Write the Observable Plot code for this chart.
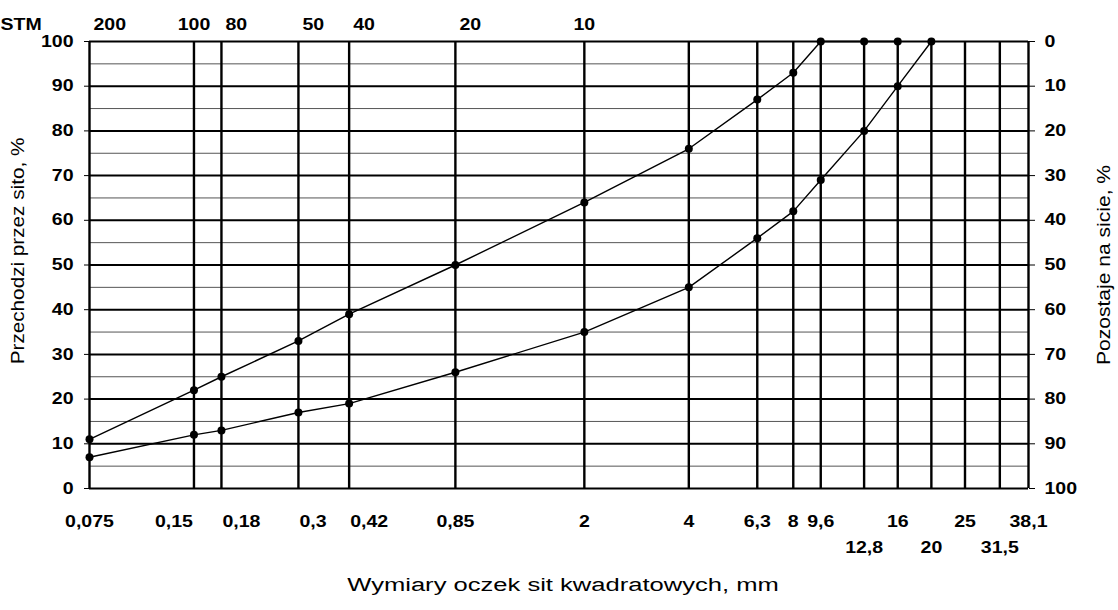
<!DOCTYPE html>
<html><head><meta charset="utf-8">
<script src="https://cdn.jsdelivr.net/npm/d3@7"></script>
<script src="https://cdn.jsdelivr.net/npm/@observablehq/plot@0.6"></script>
<style>
html,body{margin:0;padding:0;background:#fff;}
#chart{width:1118px;height:610px;}
</style></head><body><div id="chart"></div>
<script>
// Sieve sizes (mm) and their bottom labels; row 2 = second line of labels
const sieveSizes  = [0.075, 0.15, 0.18, 0.3, 0.42, 0.85, 2, 4, 6.3, 8, 9.6, 12.8, 16, 20, 25, 31.5, 38.1];
const sieveLabels = ["0,075","0,15","0,18","0,3","0,42","0,85","2","4","6,3","8","9,6","12,8","16","20","25","31,5","38,1"];
const sieveRow    = [1,1,1,1,1,1,1,1,1,1,1,2,1,2,1,2,1];
// STM mesh numbers along the top
const meshSizes  = [0.075, 0.15, 0.18, 0.3, 0.42, 0.85, 2];
const meshLabels = ["200","100","80","50","40","20","10"];
// Grading curves (percent passing)
const upperSizes   = [0.075, 0.15, 0.18, 0.3, 0.42, 0.85, 2, 4, 6.3, 8, 9.6, 12.8, 16];
const upperPassing = [11, 22, 25, 33, 39, 50, 64, 76, 87, 93, 100, 100, 100];
const lowerSizes   = [0.075, 0.15, 0.18, 0.3, 0.42, 0.85, 2, 4, 6.3, 8, 9.6, 12.8, 16, 20];
const lowerPassing = [7, 12, 13, 17, 19, 26, 35, 45, 56, 62, 69, 80, 90, 100];
// Y ticks / grid
const yMajor = [0,10,20,30,40,50,60,70,80,90,100];
const yMinor = [5,15,25,35,45,55,65,75,85,95];

// label alignment styling (kept separate from the data)
const bottomStart = new Set(["0,18","0,3","0,42"]);
const bottomEnd   = new Set(["0,15"]);
const topStart    = new Set(["200","80","50","40","20"]);

const sieves = sieveSizes.map((s,i)=>({size:s,label:sieveLabels[i],row:sieveRow[i]}));
const mesh = meshSizes.map((s,i)=>({size:s,label:meshLabels[i]}));
const upper = upperSizes.map((s,i)=>({size:s,pass:upperPassing[i]}));
const lower = lowerSizes.map((s,i)=>({size:s,pass:lowerPassing[i]}));

const numStyle = {fontWeight:"bold", fontSize:16};
const bottomRow1 = sieves.filter(d=>d.row===1);
const bottomRow2 = sieves.filter(d=>d.row===2);

const chart = Plot.plot({
  width:1118, height:610,
  marginLeft:89, marginRight:90, marginTop:41, marginBottom:122,
  style:{fontFamily:"'Liberation Sans', Arial, sans-serif", fontSize:"16px", color:"#000", background:"#fff"},
  x:{type:"log", domain:[0.075,38.1], axis:null},
  y:{domain:[0,100]},
  marks:[
    Plot.ruleY(yMinor,{stroke:"#555", strokeWidth:1}),
    Plot.ruleY(yMajor,{stroke:"#000", strokeWidth:2}),
    Plot.ruleX(sieveSizes,{stroke:"#000", strokeWidth:2.4}),
    Plot.axisY({ticks:yMajor, anchor:"left", tickSize:5, tickPadding:11, label:null, ...numStyle}),
    Plot.axisY({ticks:yMajor, anchor:"right", tickSize:6, tickPadding:10, label:null, tickFormat:d=>String(100-d), ...numStyle}),
    // bottom sieve-size labels
    Plot.text(bottomRow1.filter(d=>!bottomStart.has(d.label)&&!bottomEnd.has(d.label)), {x:"size", text:"label", frameAnchor:"bottom", dy:38, textAnchor:"middle", ...numStyle}),
    Plot.text(bottomRow1.filter(d=>bottomStart.has(d.label)), {x:"size", text:"label", frameAnchor:"bottom", dy:38, dx:1, textAnchor:"start", ...numStyle}),
    Plot.text(bottomRow1.filter(d=>bottomEnd.has(d.label)), {x:"size", text:"label", frameAnchor:"bottom", dy:38, dx:-1, textAnchor:"end", ...numStyle}),
    Plot.text(bottomRow2, {x:"size", text:"label", frameAnchor:"bottom", dy:64, textAnchor:"middle", ...numStyle}),
    // top STM mesh numbers
    Plot.text(mesh.filter(d=>topStart.has(d.label)), {x:"size", text:"label", frameAnchor:"top", dy:-23, dx:4, textAnchor:"start", ...numStyle}),
    Plot.text(mesh.filter(d=>!topStart.has(d.label)), {x:"size", text:"label", frameAnchor:"top", dy:-23, textAnchor:"middle", ...numStyle}),
    Plot.text(["STM"], {text:d=>d, frameAnchor:"top-left", dx:-89, dy:-23, textAnchor:"start", ...numStyle}),
    // axis titles
    Plot.text(["Przechodzi przez sito, %"], {text:d=>d, frameAnchor:"left", textAnchor:"middle", rotate:-90, dx:-71, dy:-14, fontSize:18}),
    Plot.text(["Pozostaje na sicie, %"], {text:d=>d, frameAnchor:"right", textAnchor:"middle", rotate:-90, dx:76, dy:0, fontSize:18}),
    Plot.text(["Wymiary oczek sit kwadratowych, mm"], {text:d=>d, frameAnchor:"bottom", textAnchor:"middle", dx:4, dy:102, fontSize:18}),
    // curves
    Plot.line(upper, {x:"size", y:"pass", stroke:"#000", strokeWidth:1.4}),
    Plot.line(lower, {x:"size", y:"pass", stroke:"#000", strokeWidth:1.4}),
    Plot.dot(upper, {x:"size", y:"pass", r:4, fill:"#000"}),
    Plot.dot(lower, {x:"size", y:"pass", r:4, fill:"#000"})
  ]
});
document.getElementById("chart").append(chart);
// horizontal stretch of glyphs to match the wide lettering of the reference
const stretch = {
  "Wymiary oczek sit kwadratowych, mm": 1.42,
  "Przechodzi przez sito, %": 1.15,
  "Pozostaje na sicie, %": 1.17
};
chart.querySelectorAll("text").forEach(t=>{
  const f = stretch[t.textContent] || 1.22;
  const L = t.getComputedTextLength();
  if (L>0) { t.setAttribute("textLength", L*f); t.setAttribute("lengthAdjust","spacingAndGlyphs"); }
});
</script></body></html>
